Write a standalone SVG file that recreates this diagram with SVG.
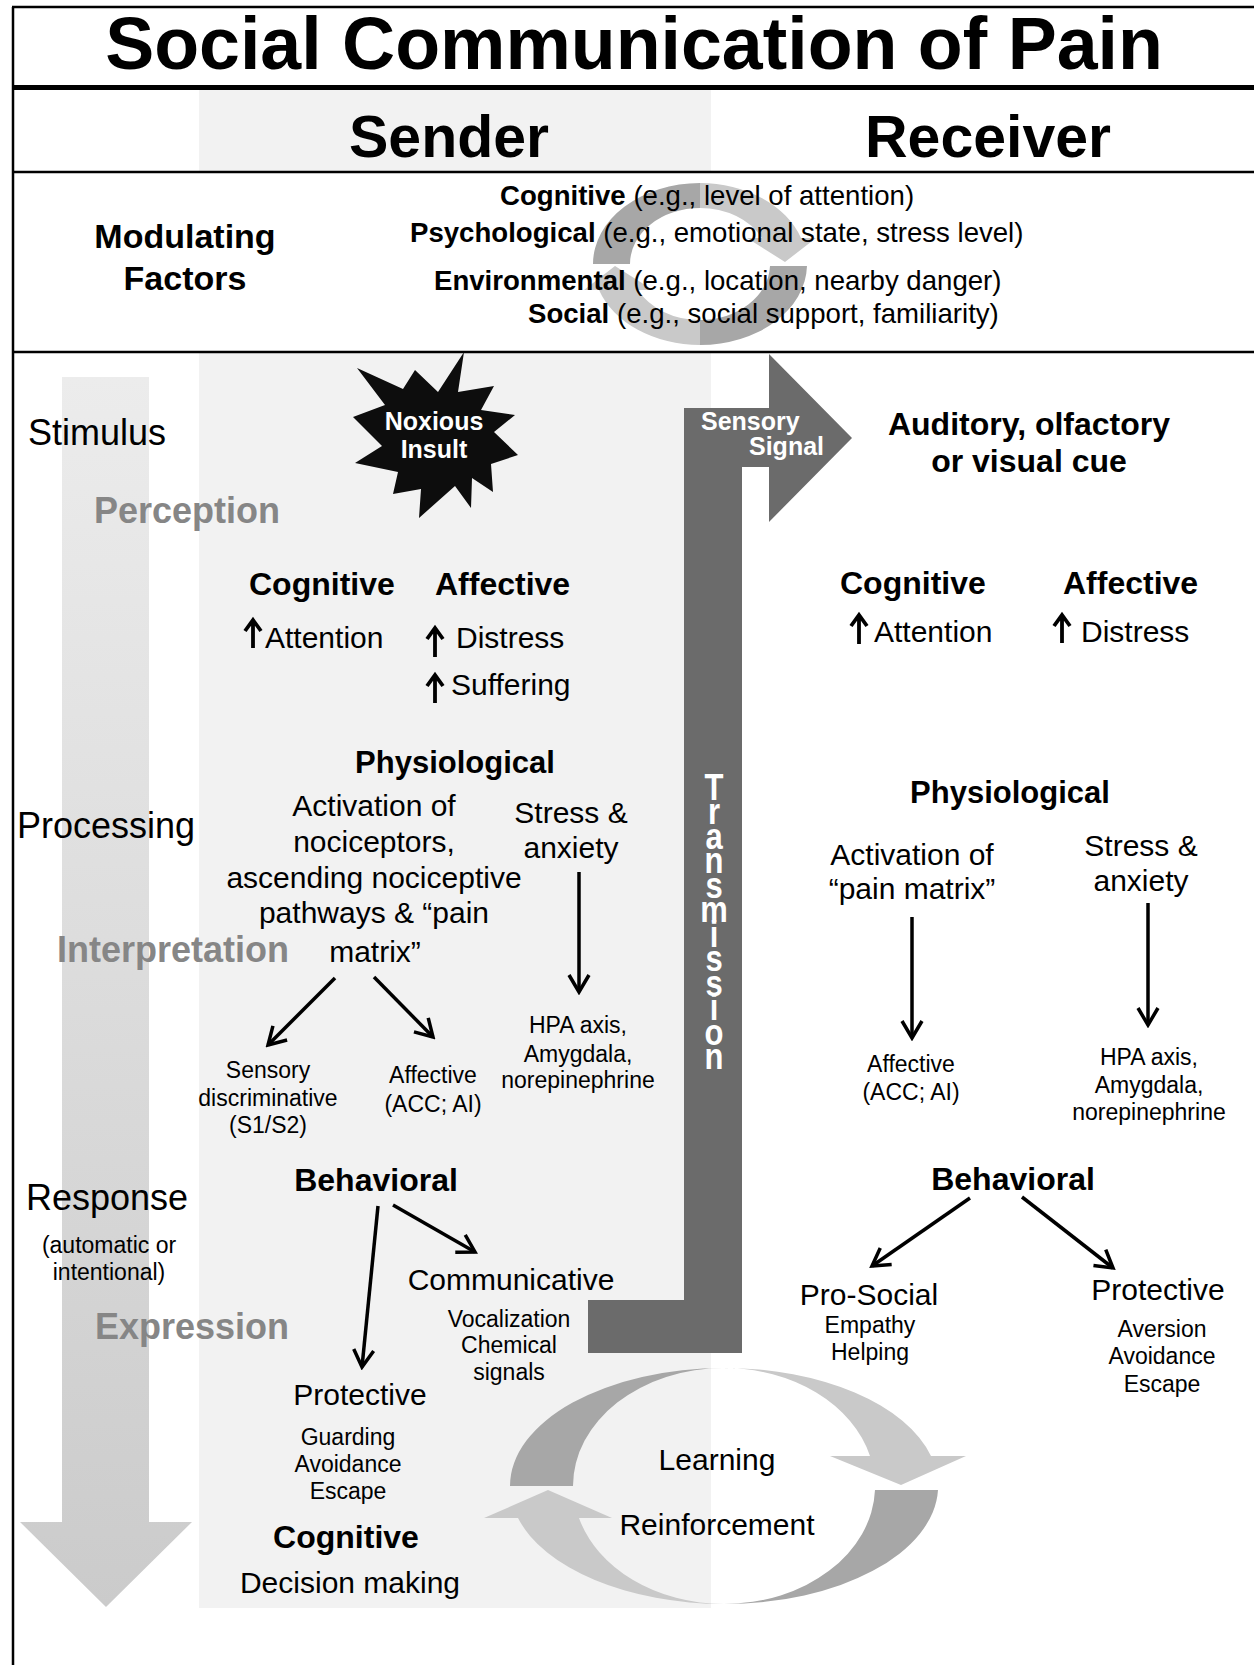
<svg xmlns="http://www.w3.org/2000/svg" width="1254" height="1665" viewBox="0 0 1254 1665">
<defs>
<style>
text{font-family:"Liberation Sans",Arial,Helvetica,sans-serif;fill:#000}
.b{font-weight:bold}
.m{text-anchor:middle}
.e{text-anchor:end}
.g{fill:#868686}
.w{fill:#fff}
.s36{font-size:36px}.s32{font-size:32px}.s31{font-size:31px}.s30{font-size:30px}.s23{font-size:23px}.s25{font-size:25px}
.rule{stroke:#000;fill:none}
.arr{stroke:#000;stroke-width:3.5;fill:none;marker-end:url(#ah)}
.up{stroke:#000;stroke-width:3.8;fill:none;stroke-linejoin:miter}
.dk{fill:#a7a7a7}
.lt{fill:#c9c9c9}
.vert{writing-mode:vertical-rl;text-orientation:upright;letter-spacing:-14px}
</style>
<marker id="ah" markerUnits="userSpaceOnUse" markerWidth="24" markerHeight="24" viewBox="0 0 24 24" refX="21" refY="12" orient="auto">
<path d="M4,2 L21,12 L4,22" fill="none" stroke="#000" stroke-width="3.5"/>
</marker>
<linearGradient id="bigArrow" gradientUnits="userSpaceOnUse" x1="0" y1="377" x2="0" y2="1607">
<stop offset="0" stop-color="#ececec"/>
<stop offset="1" stop-color="#cbcbcb"/>
</linearGradient>
</defs>
<rect x="0" y="0" width="1254" height="1665" fill="#fff"/>

<g id="sender-panel">
<rect x="199" y="90" width="512" height="82" fill="#f2f2f2"/>
<rect x="199" y="353" width="512" height="1255" fill="#f2f2f2"/>
</g>

<g id="frame">
<line class="rule" x1="13" y1="7" x2="13" y2="1665" stroke-width="2.5"/>
<line class="rule" x1="12" y1="7" x2="1254" y2="7" stroke-width="2.5"/>
<line class="rule" x1="12" y1="87.5" x2="1254" y2="87.5" stroke-width="5"/>
<line class="rule" x1="12" y1="172" x2="1254" y2="172" stroke-width="2.5"/>
<line class="rule" x1="12" y1="352" x2="1254" y2="352" stroke-width="2.5"/>
</g>

<g id="title">
<text class="b m" x="634" y="69" font-size="73.5">Social Communication of Pain</text>
</g>
<g id="header-sender"><text class="b m" x="449" y="157" font-size="59">Sender</text></g>
<g id="header-receiver"><text class="b m" x="988" y="157" font-size="59">Receiver</text></g>

<g id="modulating-cycle">
<path class="dk" d="M593,264 A107,81 0 0 1 700,183 L700,208 A70,56 0 0 0 630,264 Z"/>
<path class="lt" d="M700,183 A107,81 0 0 1 801,238 L816,238 L785,262 L747,238 L762,238 A70,56 0 0 0 700,208 Z"/>
<path class="dk" d="M807,266 A107,81 0 0 1 700,345 L700,320 A70,56 0 0 0 770,266 Z"/>
<path class="lt" d="M700,345 A107,81 0 0 1 599,290 L584,290 L615,266 L653,290 L638,290 A70,56 0 0 0 700,320 Z"/>
</g>

<g id="modulating-factors">
<text class="b m" x="185" y="248" font-size="34">Modulating</text>
<text class="b m" x="185" y="290" font-size="34">Factors</text>
<text x="500" y="205" font-size="27.6"><tspan class="b">Cognitive</tspan> (e.g., level of attention)</text>
<text x="410" y="242" font-size="27.6"><tspan class="b">Psychological</tspan> (e.g., emotional state, stress level)</text>
<text x="434" y="290" font-size="27.6"><tspan class="b">Environmental</tspan> (e.g., location, nearby danger)</text>
<text x="528" y="323" font-size="27.6"><tspan class="b">Social</tspan> (e.g., social support, familiarity)</text>
</g>

<g id="stage-arrow">
<path d="M62,377 L149,377 L149,1522 L192,1522 L106,1607 L20,1522 L62,1522 Z" fill="url(#bigArrow)"/>
</g>

<g id="stage-labels">
<text class="s36" x="28" y="445">Stimulus</text>
<text class="b g s36" x="94" y="523">Perception</text>
<text class="s36" x="17" y="838">Processing</text>
<text class="b g s36" x="57" y="962">Interpretation</text>
<text class="s36" x="26" y="1210">Response</text>
<text class="s23 m" x="109" y="1253">(automatic or</text>
<text class="s23 m" x="109" y="1280">intentional)</text>
<text class="b g s36" x="95" y="1339">Expression</text>
</g>

<g id="noxious-insult">
<polygon points="464,352 458,392 494,386 481,410 515,415 494,432 518,455 491,464 493,492 472,478 471,508 455,486 419,518 421,489 393,494 398,472 355,463 382,446 353,417 385,405 357,368 403,389 415,370 438,392" fill="#0d0d0d"/>
<text class="b w m s25" x="434" y="430">Noxious</text>
<text class="b w m s25" x="434" y="458">Insult</text>
</g>

<g id="transmission">
<path d="M684,408 L769,408 L769,354 L852,438 L769,522 L769,467 L742,467 L742,1353 L588,1353 L588,1300 L684,1300 Z" fill="#6b6b6b"/>
<text class="b w s25" x="701" y="430">Sensory</text>
<text class="b w s25 e" x="824" y="455">Signal</text>
<text class="b w vert" font-size="31" transform="translate(714,766) scale(1,1.2)" x="0" y="0">Transmission</text>
</g>

<g id="receiver-cue">
<text class="b m s32" x="1029" y="435">Auditory, olfactory</text>
<text class="b m s32" x="1029" y="472">or visual cue</text>
</g>

<g id="sender-perception">
<text class="b s32" x="249" y="595">Cognitive</text>
<text class="b s32" x="435" y="595">Affective</text>
<text class="s30" x="265" y="648">Attention</text>
<text class="s30" x="456" y="648">Distress</text>
<text class="s30" x="451" y="695">Suffering</text>
<path class="up" d="M253,648 V622 M245,631 L253,620 L261,631"/>
<path class="up" d="M435,657 V630 M427,639 L435,628 L443,639"/>
<path class="up" d="M435,703 V677 M427,686 L435,675 L443,686"/>
</g>

<g id="receiver-perception">
<text class="b s32" x="840" y="594">Cognitive</text>
<text class="b s32" x="1063" y="594">Affective</text>
<text class="s30" x="874" y="642">Attention</text>
<text class="s30" x="1081" y="642">Distress</text>
<path class="up" d="M859,644 V617 M851,626 L859,615 L867,626"/>
<path class="up" d="M1062,643 V617 M1054,626 L1062,615 L1070,626"/>
</g>

<g id="sender-physiological">
<text class="b m s31" x="455" y="773">Physiological</text>
<text class="m s30" x="374" y="816">Activation of</text>
<text class="m s30" x="374" y="852">nociceptors,</text>
<text class="m s30" x="374" y="888">ascending nociceptive</text>
<text class="m s30" x="374" y="923">pathways &amp; “pain</text>
<text class="m s30" x="375" y="962">matrix”</text>
<text class="m s30" x="571" y="823">Stress &amp;</text>
<text class="m s30" x="571" y="858">anxiety</text>
</g>
<g id="sender-sensory"><text class="m s23" x="268" y="1078">Sensory</text><text class="m s23" x="268" y="1106">discriminative</text><text class="m s23" x="268" y="1133">(S1/S2)</text></g>
<g id="sender-affective"><text class="m s23" x="433" y="1083">Affective</text><text class="m s23" x="433" y="1112">(ACC; AI)</text></g>
<g id="sender-hpa"><text class="m s23" x="578" y="1033">HPA axis,</text><text class="m s23" x="578" y="1062">Amygdala,</text><text class="m s23" x="578" y="1088">norepinephrine</text></g>

<g id="receiver-physiological">
<text class="b m s31" x="1010" y="803">Physiological</text>
<text class="m s30" x="912" y="865">Activation of</text>
<text class="m s30" x="912" y="899">“pain matrix”</text>
<text class="m s30" x="1141" y="856">Stress &amp;</text>
<text class="m s30" x="1141" y="891">anxiety</text>
</g>
<g id="receiver-affective"><text class="m s23" x="911" y="1072">Affective</text><text class="m s23" x="911" y="1100">(ACC; AI)</text></g>
<g id="receiver-hpa"><text class="m s23" x="1149" y="1065">HPA axis,</text><text class="m s23" x="1149" y="1093">Amygdala,</text><text class="m s23" x="1149" y="1120">norepinephrine</text></g>

<g id="sender-behavioral">
<text class="b m s32" x="376" y="1191">Behavioral</text>
<text class="m s30" x="511" y="1290">Communicative</text>
<text class="m s23" x="509" y="1327">Vocalization</text>
<text class="m s23" x="509" y="1353">Chemical</text>
<text class="m s23" x="509" y="1380">signals</text>
<text class="m s30" x="360" y="1405">Protective</text>
<text class="m s23" x="348" y="1445">Guarding</text>
<text class="m s23" x="348" y="1472">Avoidance</text>
<text class="m s23" x="348" y="1499">Escape</text>
</g>
<g id="sender-cognitive">
<text class="b m s32" x="346" y="1548">Cognitive</text>
<text class="m s30" x="350" y="1593">Decision making</text>
</g>

<g id="receiver-behavioral">
<text class="b m s32" x="1013" y="1190">Behavioral</text>
<text class="m s30" x="869" y="1305">Pro-Social</text>
<text class="m s23" x="870" y="1333">Empathy</text>
<text class="m s23" x="870" y="1360">Helping</text>
<text class="m s30" x="1158" y="1300">Protective</text>
<text class="m s23" x="1162" y="1337">Aversion</text>
<text class="m s23" x="1162" y="1364">Avoidance</text>
<text class="m s23" x="1162" y="1392">Escape</text>
</g>

<g id="learning-cycle">
<path class="dk" d="M510,1486 A214,118 0 0 1 724,1368 A151,118 0 0 0 573,1486 Z"/>
<path class="lt" d="M724,1368 A214,118 0 0 1 931,1456 L966,1456 L901,1485 L830,1456 L870,1456 A151,118 0 0 0 724,1368 Z"/>
<path class="dk" d="M938,1490 A214,118 0 0 1 724,1604 A151,118 0 0 0 875,1490 Z"/>
<path class="lt" d="M724,1604 A214,118 0 0 1 518,1518 L484,1518 L548,1490 L612,1518 L579,1518 A151,118 0 0 0 724,1604 Z"/>
<text class="m s30" x="717" y="1470">Learning</text>
<text class="m s30" x="717" y="1535">Reinforcement</text>
</g>

<g id="connectors">
<line class="arr" x1="579" y1="872" x2="579" y2="992"/>
<line class="arr" x1="335" y1="978" x2="268" y2="1045"/>
<line class="arr" x1="374" y1="977" x2="433" y2="1037"/>
<line class="arr" x1="912" y1="917" x2="912" y2="1038"/>
<line class="arr" x1="1148" y1="903" x2="1148" y2="1025"/>
<line class="arr" x1="378" y1="1206" x2="362" y2="1367"/>
<line class="arr" x1="393" y1="1205" x2="475" y2="1252"/>
<line class="arr" x1="970" y1="1198" x2="872" y2="1266"/>
<line class="arr" x1="1022" y1="1197" x2="1113" y2="1268"/>
</g>
</svg>
